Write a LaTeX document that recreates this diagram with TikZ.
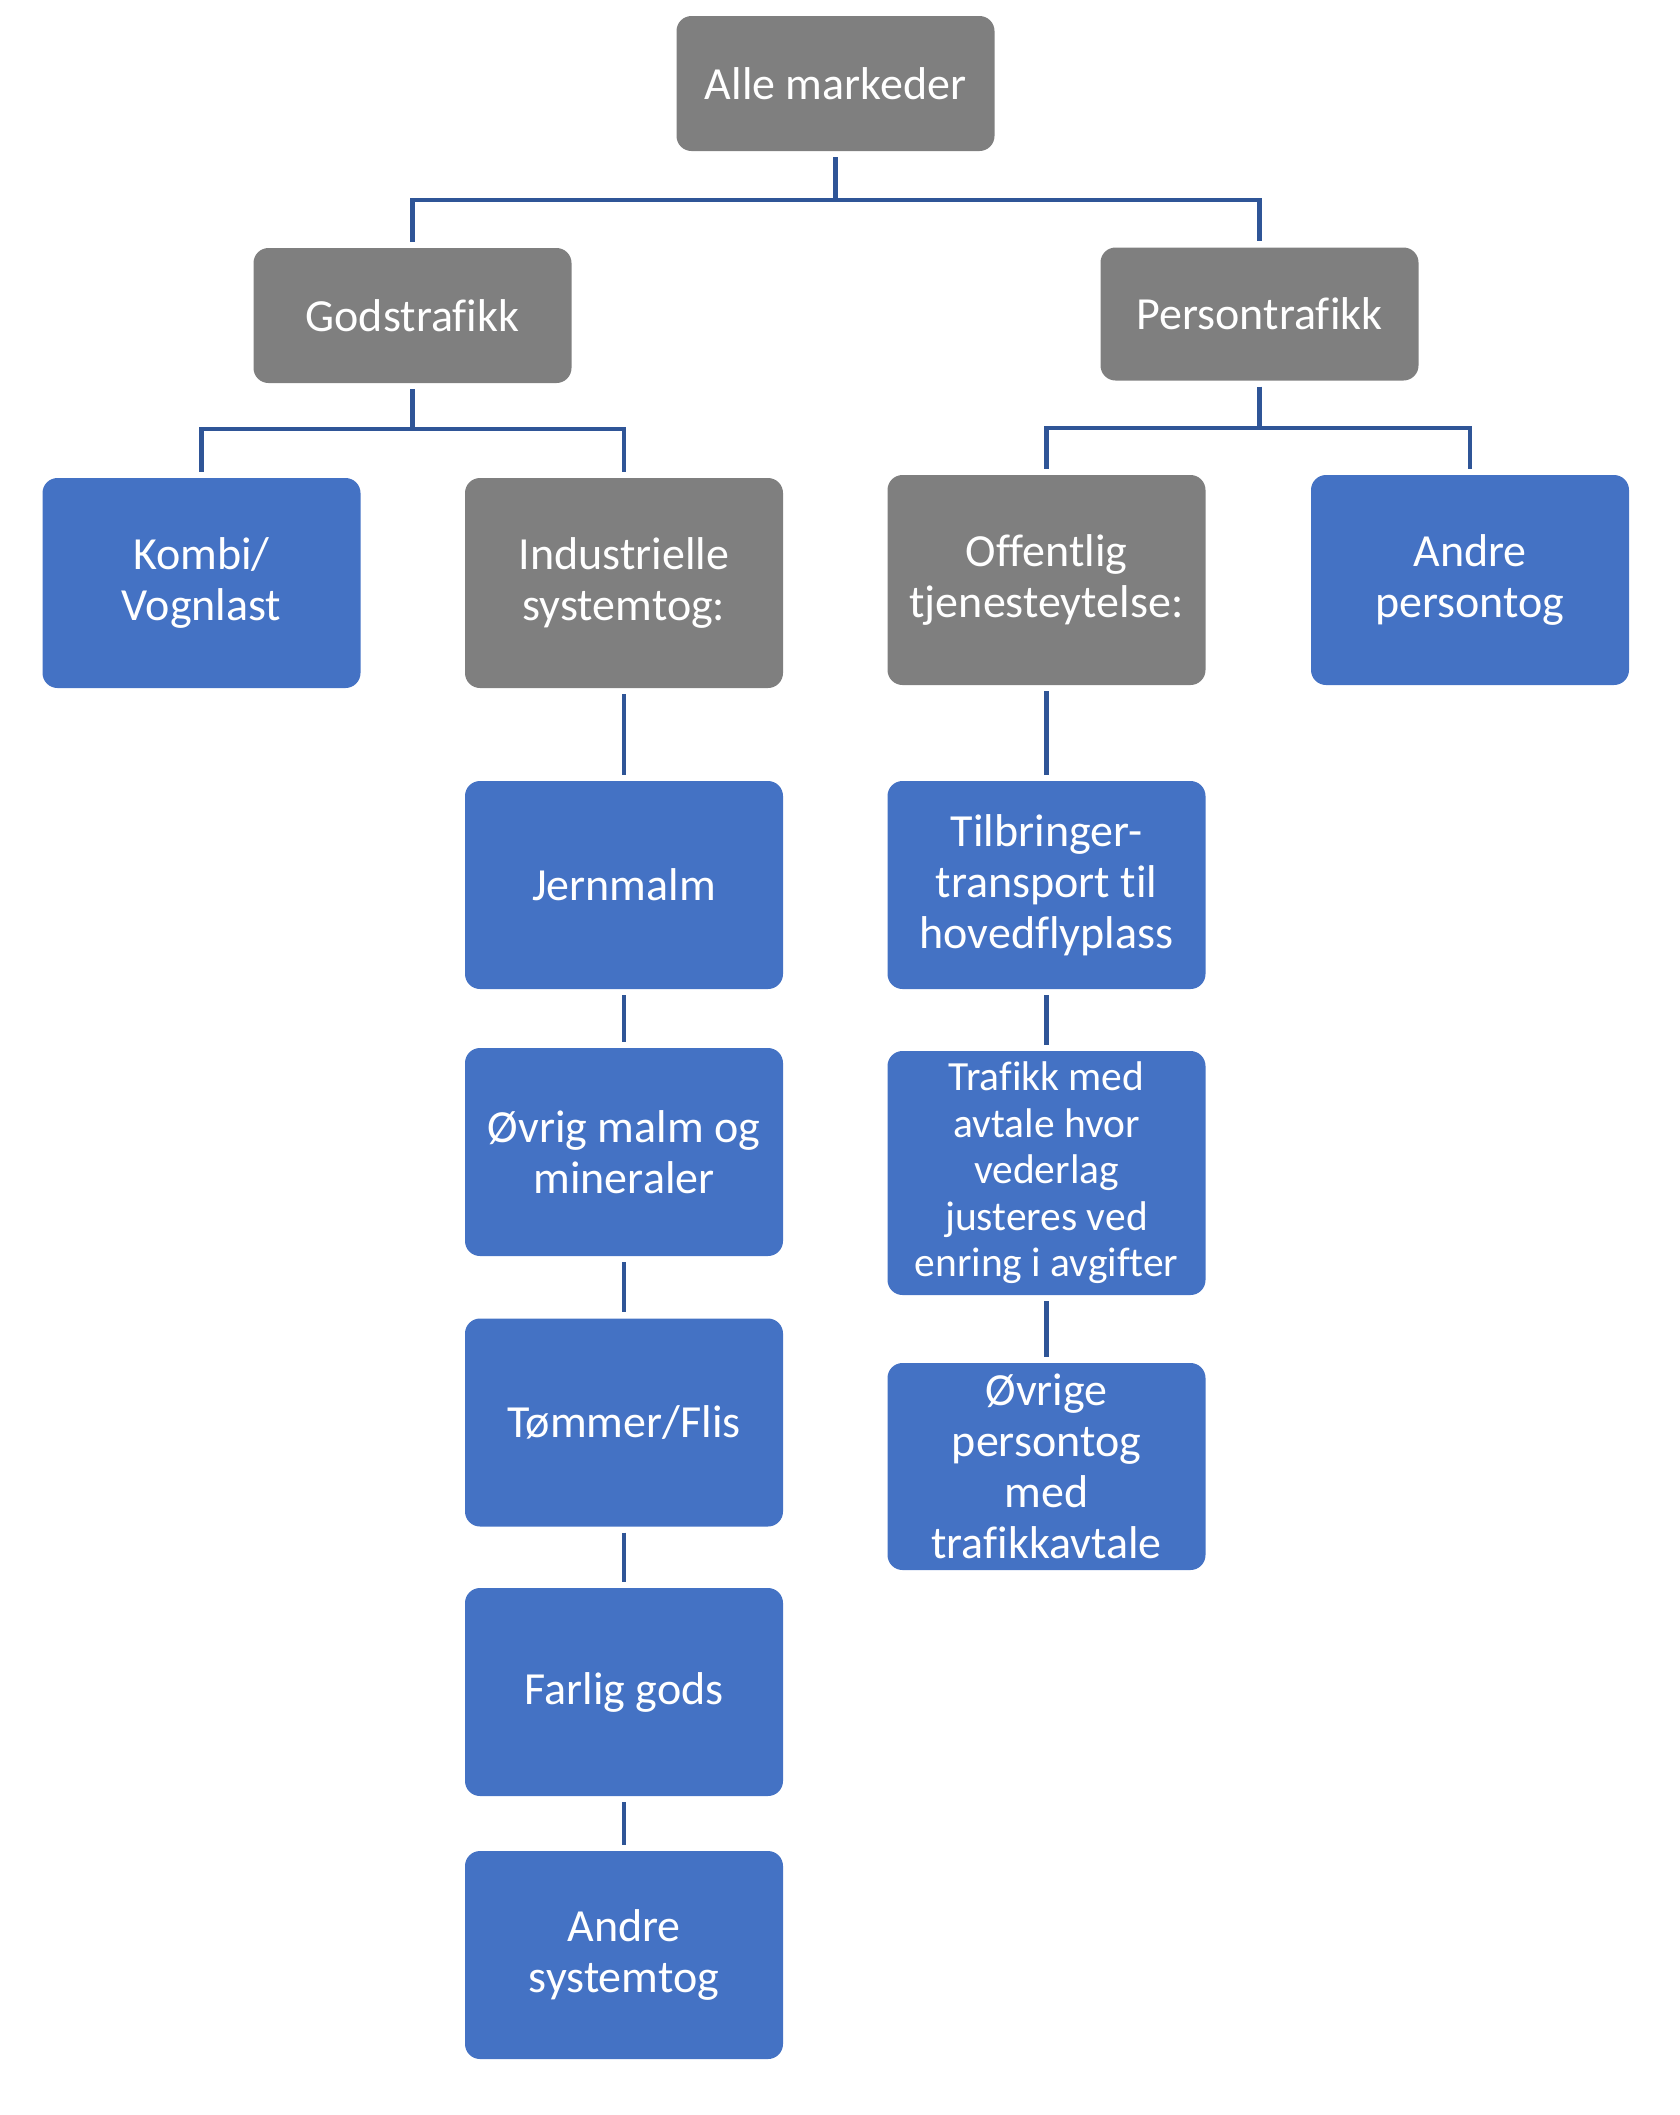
\documentclass[tikz,border=0pt]{standalone}
\usepackage{fontspec}
\setmainfont{Carlito}[Ligatures=NoCommon]
\definecolor{boxgray}{RGB}{127,127,127}
\definecolor{boxblue}{RGB}{68,114,196}
\definecolor{linkblue}{RGB}{47,85,151}
\tikzset{
  basebox/.style={rounded corners=15pt, minimum width=318pt, text=white, align=center,
    inner sep=4pt, font=\fontsize{46}{51}\selectfont},
  graybox/.style={basebox, fill=boxgray},
  bluebox/.style={basebox, fill=boxblue},
  link/.style={draw=linkblue, line width=4.5pt, shorten >=6pt, shorten <=6pt}
}
\begin{document}
\begin{tikzpicture}[x=1pt,y=-1pt]
\useasboundingbox (0,0) rectangle (1680,2115);
% level 0
\node[graybox, minimum height=135pt] (alle) at (835.5,83.5) {Alle markeder};
% level 1
\node[graybox, minimum height=135pt] (gods) at (412.5,315.5) {Godstrafikk};
\node[graybox, minimum height=133pt] (person) at (1259.5,314) {Persontrafikk};
% level 2
\node[bluebox, minimum height=210pt] (kombi) at (201.5,583) {Kombi/\\Vognlast};
\node[graybox, minimum height=210pt] (indu) at (624,583) {Industrielle\\systemtog:};
\node[graybox, minimum height=210pt] (off) at (1046.5,580) {Offentlig\\tjenesteytelse:};
\node[bluebox, minimum height=210pt] (andrep) at (1470,580) {Andre\\persontog};
% left column
\node[bluebox, minimum height=208pt] (jern) at (624,885) {Jernmalm};
\node[bluebox, minimum height=208pt] (ovrig) at (624,1152) {Øvrig malm og\\mineraler};
\node[bluebox, minimum height=208pt] (tommer) at (624,1422.5) {Tømmer/Flis};
\node[bluebox, minimum height=208pt] (farlig) at (624,1692) {Farlig gods};
\node[bluebox, minimum height=208pt] (andres) at (624,1955) {Andre\\systemtog};
% right column
\node[bluebox, minimum height=208pt] (tilb) at (1046.5,885) {Tilbringer-\\transport til\\hovedflyplass};
\node[bluebox, minimum height=244pt, font=\fontsize{41.5}{46.5}\selectfont] (trafikk) at (1046.5,1173) {Trafikk med\\avtale hvor\\vederlag\\justeres ved\\enring i avgifter};
\node[bluebox, minimum height=207pt] (ovrigep) at (1046.5,1466.5) {Øvrige\\persontog\\med\\trafikkavtale};
% bus coordinates
\coordinate (b0) at (835.5,200);
\coordinate (b1) at (412.5,429);
\coordinate (b2) at (1259.5,428);
% connectors
\draw[link, shorten >=0pt] (alle.south) -- (b0);
\draw[link] (gods.north) |- (b0) -| (person.north);
\draw[link, shorten >=0pt] (gods.south) -- (b1);
\draw[link] (kombi.north) |- (b1) -| (indu.north);
\draw[link, shorten >=0pt] (person.south) -- (b2);
\draw[link] (off.north) |- (b2) -| (andrep.north);
\draw[link] (indu.south) -- (jern.north);
\draw[link] (jern.south) -- (ovrig.north);
\draw[link] (ovrig.south) -- (tommer.north);
\draw[link] (tommer.south) -- (farlig.north);
\draw[link] (farlig.south) -- (andres.north);
\draw[link] (off.south) -- (tilb.north);
\draw[link] (tilb.south) -- (trafikk.north);
\draw[link] (trafikk.south) -- (ovrigep.north);
\end{tikzpicture}
\end{document}
